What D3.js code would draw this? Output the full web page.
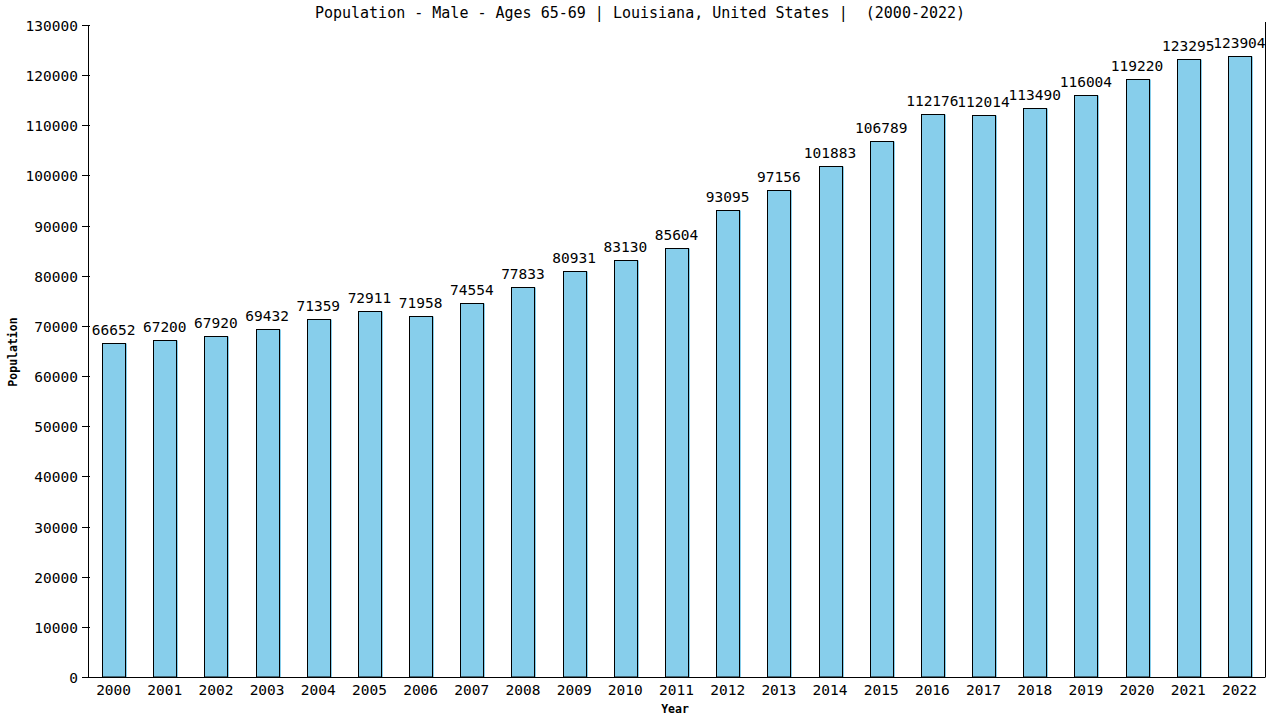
<!DOCTYPE html>
<html>
<head>
<meta charset="utf-8">
<script src="https://cdn.jsdelivr.net/npm/d3@7"></script>
<style>
  body { margin: 0; background: #fff; }
  text { font-family: "DejaVu Sans Mono", monospace; fill: #000; white-space: pre; }
</style>
</head>
<body>
<svg id="chart" width="1280" height="720"></svg>
<script>
// Chart data
var years = ["2000", "2001", "2002", "2003", "2004", "2005", "2006", "2007", "2008", "2009", "2010", "2011",
             "2012", "2013", "2014", "2015", "2016", "2017", "2018", "2019", "2020", "2021", "2022"];
var population = [66652, 67200, 67920, 69432, 71359, 72911, 71958, 74554, 77833, 80931, 83130, 85604,
                  93095, 97156, 101883, 106789, 112176, 112014, 113490, 116004, 119220, 123295, 123904];
var y_ticks = [0, 10000, 20000, 30000, 40000, 50000, 60000, 70000, 80000, 90000, 100000, 110000, 120000, 130000];
var chart_title = "Population - Male - Ages 65-69 | Louisiana, United States |  (2000-2022)";

// Plot box
var PLOT_LEFT = 88;
var PLOT_RIGHT = 1265;
var PLOT_TOP = 25;
var PLOT_BOTTOM = 677;

var svg = d3.select("#chart");

var x = d3.scaleBand()
        .domain(years)
        .range([PLOT_LEFT, PLOT_RIGHT])
        .paddingInner(0.55)
        .paddingOuter(0.275);

var y = d3.scaleLinear()
        .domain([0, 130000])
        .range([PLOT_BOTTOM, PLOT_TOP]);

// Title (keep the double space)
svg.append("text")
        .attr("x", 640)
        .attr("y", 18)
        .attr("text-anchor", "middle")
        .attr("xml:space", "preserve")
        .style("font-size", "15px")
        .text(chart_title);

// Bars: fill sticks out one pixel on the right of the outline
var bars = svg.append("g");
years.forEach(function (yr, i) {
    var bx = Math.round(x(yr)) + 0.5;
    var by = Math.round(y(population[i])) + 0.5;
    var bw = Math.round(x.bandwidth());
    var bh = PLOT_BOTTOM - by;
    bars.append("rect")
            .attr("x", bx)
            .attr("y", by)
            .attr("width", bw + 1.5)
            .attr("height", bh)
            .attr("fill", "#87ceeb");
    bars.append("rect")
            .attr("x", bx)
            .attr("y", by)
            .attr("width", bw)
            .attr("height", bh)
            .attr("fill", "none")
            .attr("stroke", "#000")
            .attr("stroke-width", 1);
    bars.append("text")
            .attr("x", x(yr) + x.bandwidth() / 2)
            .attr("y", y(population[i]) - 8)
            .attr("text-anchor", "middle")
            .style("font-size", "14.5px")
            .text(population[i]);
});

// Y axis
var yAxis = svg.append("g");
yAxis.append("line")
        .attr("x1", PLOT_LEFT + 0.5).attr("x2", PLOT_LEFT + 0.5)
        .attr("y1", PLOT_TOP).attr("y2", PLOT_BOTTOM)
        .attr("stroke", "#000");
y_ticks.forEach(function (t) {
    var ty = Math.round(y(t)) + 0.5;
    yAxis.append("line")
            .attr("x1", PLOT_LEFT - 6).attr("x2", PLOT_LEFT + 2)
            .attr("y1", ty).attr("y2", ty)
            .attr("stroke", "#000");
    yAxis.append("text")
            .attr("x", PLOT_LEFT - 10)
            .attr("y", ty + 5)
            .attr("text-anchor", "end")
            .style("font-size", "14.5px")
            .text(t);
});

// X axis and right border
svg.append("line")
        .attr("x1", PLOT_LEFT).attr("x2", PLOT_RIGHT + 0.5)
        .attr("y1", PLOT_BOTTOM + 0.5).attr("y2", PLOT_BOTTOM + 0.5)
        .attr("stroke", "#000");
svg.append("line")
        .attr("x1", PLOT_RIGHT + 0.5).attr("x2", PLOT_RIGHT + 0.5)
        .attr("y1", PLOT_TOP - 3).attr("y2", PLOT_BOTTOM)
        .attr("stroke", "#000");

years.forEach(function (yr) {
    svg.append("text")
            .attr("x", x(yr) + x.bandwidth() / 2)
            .attr("y", 695)
            .attr("text-anchor", "middle")
            .style("font-size", "14.5px")
            .text(yr);
});

// Axis titles
svg.append("text")
        .attr("x", 675)
        .attr("y", 713)
        .attr("text-anchor", "middle")
        .style("font-size", "11.5px")
        .style("font-weight", "bold")
        .text("Year");
svg.append("text")
        .attr("transform", "translate(17,352) rotate(-90)")
        .attr("text-anchor", "middle")
        .style("font-size", "11.5px")
        .style("font-weight", "bold")
        .text("Population");
</script>
</body>
</html>
